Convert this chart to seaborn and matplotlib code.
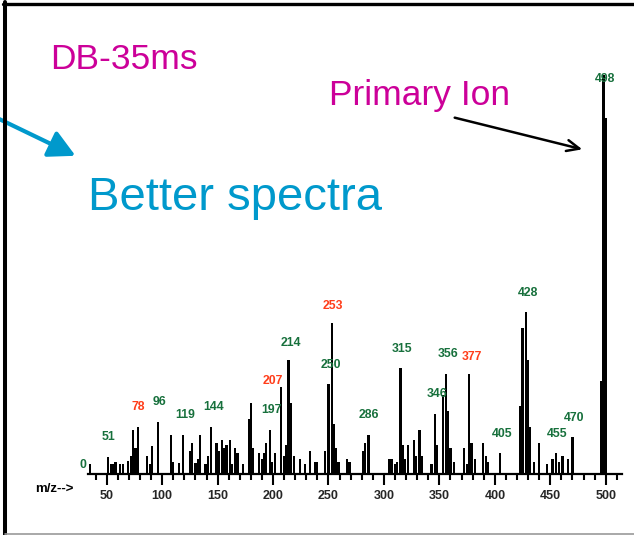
import numpy as np
import pandas as pd
import matplotlib
matplotlib.use("Agg")
import matplotlib.pyplot as plt
import seaborn as sns
from matplotlib.patches import FancyArrowPatch
from matplotlib.lines import Line2D

# ---------------- data ----------------
mz = [35, 51, 54, 56, 58, 62, 65, 69, 72, 74, 76, 78, 86, 89, 91, 96,
      108, 110, 115, 119, 125, 127, 130, 132, 134, 139, 141, 144, 149, 151,
      154, 156, 158, 161, 163, 166, 168, 173, 178, 180, 182, 187, 190, 192,
      194, 197, 199, 202, 207, 210, 212, 214, 216, 219, 224, 229, 233, 238,
      240, 247, 250, 253, 255, 257, 259, 267, 269, 281, 283, 286, 305, 307,
      310, 312, 315, 317, 319, 322, 327, 329, 332, 334, 343, 346, 348, 353,
      356, 358, 360, 363, 372, 375, 377, 379, 382, 389, 392, 394, 405, 423,
      425, 428, 430, 432, 435, 440, 447, 452, 455, 458, 461, 466, 470, 496,
      498, 500]
intensity = [2.4, 4.3, 2.5, 2.5, 3.0, 2.5, 2.5, 3.3, 4.4, 11.0, 6.4, 11.8, 4.4, 2.5, 7.1, 13.0,
             9.8, 3.0, 2.7, 9.8, 5.8, 7.8, 2.7, 3.8, 9.8, 2.5, 4.4, 11.8, 7.8, 5.8,
             8.4, 6.5, 7.2, 8.4, 2.5, 6.5, 5.2, 2.5, 13.8, 17.8, 6.5, 5.2, 3.8, 5.2,
             7.8, 11.0, 3.0, 5.2, 21.8, 4.5, 7.2, 28.5, 17.8, 4.5, 3.8, 2.5, 5.8, 3.0,
             3.0, 5.8, 22.5, 37.8, 12.5, 6.5, 3.0, 3.8, 3.0, 5.8, 7.8, 9.8, 3.8, 3.8,
             2.5, 3.0, 26.6, 7.2, 3.8, 7.2, 8.5, 4.5, 11.0, 4.5, 2.5, 15.1, 7.2, 19.8,
             25.1, 15.8, 6.5, 3.0, 6.5, 2.5, 25.1, 7.8, 3.8, 7.8, 4.5, 3.0, 5.2, 17.1,
             36.5, 40.5, 28.5, 11.8, 3.0, 7.8, 2.5, 3.8, 5.2, 3.0, 4.5, 3.8, 9.2, 23.2,
             100.0, 89.2]

label_text = ["0", "51", "78", "96", "119", "144", "197", "207", "214", "250", "253",
              "286", "315", "346", "356", "377", "405", "428", "455", "470", "498"]
label_kind = ["g", "g", "r", "g", "g", "g", "g", "r", "g", "g", "r",
              "g", "g", "g", "g", "r", "g", "g", "g", "g", "g"]
tick_values = [50, 100, 150, 200, 250, 300, 350, 400, 450, 500]
minor_values = list(range(40, 520, 10))

# ---------------- layout ----------------
# label placement (m/z position, % height) for the peak annotations
label_pos = [(28.9, 2.2), (51.4, 9.3), (78.5, 16.8), (97.4, 18.0), (120.9, 14.8),
             (146.1, 16.8), (198.8, 16.0), (200.2, 23.4), (215.9, 32.9), (252.0, 27.3),
             (254.4, 42.2), (286.5, 14.8), (316.6, 31.3), (347.6, 20.1), (357.5, 30.1),
             (379.2, 29.4), (406.7, 10.0), (429.7, 45.3), (455.8, 10.0), (471.7, 14.1),
             (499.4, 99.0)]

W, H = 634, 535
sns.set_theme(style="white")
plt.rcParams['font.family'] = ['Liberation Sans', 'DejaVu Sans']

fig = plt.figure(figsize=(W / 100, H / 100), dpi=100)
fig.patch.set_facecolor("white")

def fx(x):
    return x / W

def fy(y):
    return 1 - y / H

ax_left, ax_right, ax_base, ax_top = 88, 622, 474, 0
ax = fig.add_axes([fx(ax_left), fy(ax_base), (ax_right - ax_left) / W, (ax_base - ax_top) / H])
ax.set_facecolor("none")

df = pd.DataFrame({"mz": mz, "intensity": intensity})
mind = np.min(np.diff(np.sort(np.unique(mz))))
sns.barplot(data=df, x="mz", y="intensity", native_scale=True, color="black",
            width=2.0 / mind, errorbar=None, linewidth=0, saturation=1, ax=ax)

# scale: 50 -> 106.7 px, 1.1089 px per unit; 100% -> 399 px
px_per_unit = 1.1089
ax.set_xlim(50 + (ax_left - 106.7) / px_per_unit, 50 + (ax_right - 106.7) / px_per_unit)
ax.set_ylim(0, ax_base / 3.99)

sns.despine(ax=ax, left=True)
ax.spines["bottom"].set_linewidth(1.6)
ax.spines["bottom"].set_color("black")
ax.set_yticks([])
ax.set_xticks(tick_values)
ax.set_xticks(minor_values, minor=True)
ax.set_xticklabels([str(t) for t in tick_values], fontweight="bold", fontsize=9)
ax.tick_params(axis="x", which="major", bottom=True, length=8, width=1.5,
               direction="out", pad=3.2, color="black")
ax.tick_params(axis="x", which="minor", bottom=True, length=4.3, width=1.5,
               direction="out", color="black")
ax.set_xlabel("")
ax.set_ylabel("")

colors = {"g": "#17703c", "r": "#ff3d1a"}
for t, k, (lx, ly) in zip(label_text, label_kind, label_pos):
    ax.text(lx, ly, t, color=colors[k], fontsize=8.8, fontweight="bold",
            ha="center", va="center", zorder=5, clip_on=False)

fig.text(fx(35), fy(489), "m/z-->", fontsize=9.5, fontweight="bold",
         ha="left", va="center", color="black")

# titles / annotations
fig.text(fx(50), fy(69), "DB-35ms", fontsize=25.5, color="#cc0099",
         ha="left", va="baseline")
fig.text(fx(329), fy(105), "Primary Ion", fontsize=25.5, color="#cc0099",
         ha="left", va="baseline")
fig.text(fx(88), fy(210), "Better spectra", fontsize=34, color="#0099cc",
         ha="left", va="baseline")

blue_arrow = FancyArrowPatch((fx(-5), fy(117)), (fx(78), fy(157)),
                             transform=fig.transFigure,
                             arrowstyle="-|>,head_length=0.8,head_width=0.42",
                             mutation_scale=20, lw=3, color="#0099cc")
fig.add_artist(blue_arrow)
black_arrow = FancyArrowPatch((fx(452), fy(117)), (fx(585), fy(150)),
                              transform=fig.transFigure,
                              arrowstyle="->,head_length=0.45,head_width=0.2",
                              mutation_scale=20, lw=1.8, color="black")
fig.add_artist(black_arrow)

# frame
fig.add_artist(Line2D([fx(3), 1], [fy(3.5), fy(3.5)], transform=fig.transFigure,
                      color="black", lw=2.4))
fig.add_artist(Line2D([fx(5), fx(5)], [fy(2), 0], transform=fig.transFigure,
                      color="black", lw=2.9))
fig.add_artist(Line2D([fx(5), 1], [fy(533.5), fy(533.5)], transform=fig.transFigure,
                      color="#9a9a9a", lw=1.2))

fig.savefig("out.png", dpi=100, facecolor="white")
